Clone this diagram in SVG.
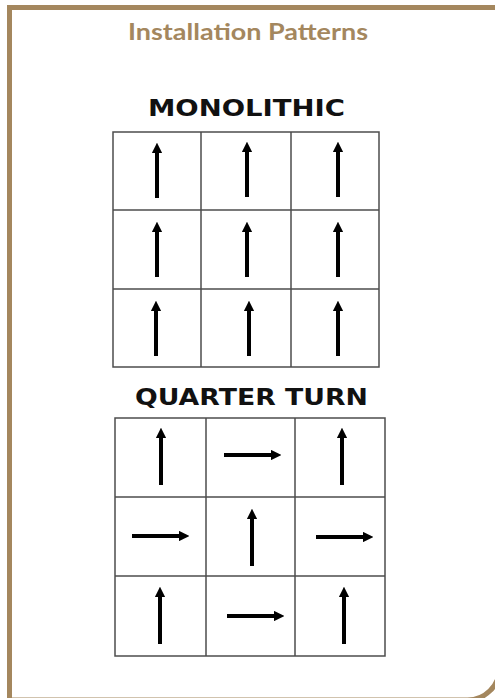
<svg xmlns="http://www.w3.org/2000/svg" width="495" height="698" viewBox="0 0 495 698">
<style>
.frame{fill:none;stroke:#A4875E;stroke-width:5}
.title{font-family:Lato,"Open Sans","Liberation Sans",sans-serif;font-weight:bold;font-size:22px;fill:#A4875E}
.head{font-family:"DejaVu Sans","Liberation Sans",sans-serif;font-weight:bold;font-size:23px;fill:#111}
.grid{fill:none;stroke:#4d4d4d;stroke-width:1.5}
.arr{stroke:#000;stroke-width:4;fill:none;marker-end:url(#ah)}
</style>
<defs>
<marker id="ah" viewBox="0 0 10 10" refX="2" refY="5" markerWidth="2.6" markerHeight="2.6" orient="auto" markerUnits="strokeWidth">
<path d="M0,0 L10,5 L0,10 z" fill="#000"/>
</marker>
</defs>
<rect width="495" height="698" fill="#fff"/>
<path class="frame" d="M9.5,705 V7.5 H510"/>
<path class="frame" d="M9.5,700 H467 A32,32 0 0 0 499.5,668 V0"/>
<text class="title" x="248" y="40" text-anchor="middle" textLength="240" lengthAdjust="spacingAndGlyphs">Installation Patterns</text>

<g id="monolithic">
<text class="head" x="246.5" y="116" text-anchor="middle" textLength="197" lengthAdjust="spacingAndGlyphs">MONOLITHIC</text>
<g class="grid">
<rect x="113" y="132" width="266" height="235"/>
<line x1="201" y1="132" x2="201" y2="367"/>
<line x1="291" y1="132" x2="291" y2="367"/>
<line x1="113" y1="210" x2="379" y2="210"/>
<line x1="113" y1="289" x2="379" y2="289"/>
</g>
<g id="mono-arrows">
<line class="arr" x1="157" y1="198" x2="157" y2="151"/>
<line class="arr" x1="247" y1="197" x2="247" y2="150"/>
<line class="arr" x1="338" y1="197" x2="338" y2="150"/>
<line class="arr" x1="157" y1="277" x2="157" y2="230"/>
<line class="arr" x1="247" y1="277" x2="247" y2="230"/>
<line class="arr" x1="338" y1="277" x2="338" y2="230"/>
<line class="arr" x1="156" y1="356" x2="156" y2="309"/>
<line class="arr" x1="249" y1="356" x2="249" y2="309"/>
<line class="arr" x1="338" y1="356" x2="338" y2="309"/>
</g>
</g>

<g id="quarter-turn">
<text class="head" x="251.5" y="405" text-anchor="middle" textLength="233" lengthAdjust="spacingAndGlyphs">QUARTER TURN</text>
<g class="grid">
<rect x="115" y="418" width="270" height="238"/>
<line x1="206" y1="418" x2="206" y2="656"/>
<line x1="295" y1="418" x2="295" y2="656"/>
<line x1="115" y1="497" x2="385" y2="497"/>
<line x1="115" y1="576" x2="385" y2="576"/>
</g>
<g id="qt-arrows">
<line class="arr" x1="161" y1="485" x2="161" y2="436"/>
<line class="arr" x1="224" y1="455" x2="273" y2="455"/>
<line class="arr" x1="342" y1="485" x2="342" y2="436"/>
<line class="arr" x1="132" y1="536" x2="181" y2="536"/>
<line class="arr" x1="252" y1="566" x2="252" y2="517"/>
<line class="arr" x1="316" y1="537" x2="365" y2="537"/>
<line class="arr" x1="160" y1="644" x2="160" y2="595"/>
<line class="arr" x1="227" y1="616" x2="276" y2="616"/>
<line class="arr" x1="344" y1="644" x2="344" y2="595"/>
</g>
</g>
</svg>
